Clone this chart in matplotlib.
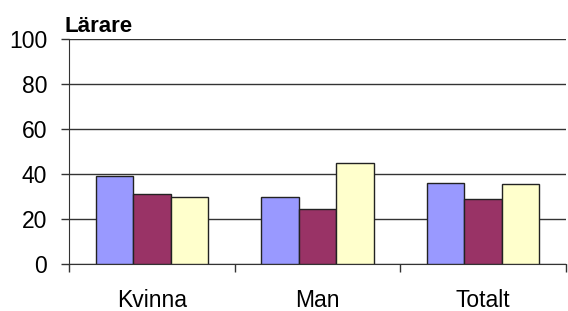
import numpy as np
import matplotlib
matplotlib.use("Agg")
import matplotlib.pyplot as plt

plt.rcParams['font.family'] = ['Liberation Sans', 'DejaVu Sans']

categories = ["Kvinna", "Man", "Totalt"]
series_a = [39, 30, 36.2]
series_b = [31, 24.6, 29]
series_c = [30, 45, 35.5]
colors = ["#9999FF", "#993366", "#FFFFCC"]
yticks = [0, 20, 40, 60, 80, 100]

fig = plt.figure(figsize=(5.68, 3.11), dpi=100)
ax = fig.add_axes([69/568, 46.7/311, 497/568, 225.6/311])

x = np.arange(len(categories))
w = 0.226
for i, (vals, c) in enumerate(zip([series_a, series_b, series_c], colors)):
    ax.bar(x + (i - 1) * w, vals, width=w, color=c, edgecolor="#222222", linewidth=1.0, zorder=3)

ax.set_xlim(-0.5, 2.5)
ax.set_ylim(0, 100)
ax.set_yticks(yticks)
ax.set_yticklabels([str(t) for t in yticks], fontsize=16.5)
ax.yaxis.grid(True, color="#333333", linewidth=1.0, zorder=0)
ax.set_axisbelow(True)

# category boundaries carry the tick marks, names sit in between
ax.set_xticks([-0.5, 0.5, 1.5, 2.5])
ax.set_xticklabels([])
ax.set_xticks(x, minor=True)
ax.set_xticklabels(categories, minor=True, fontsize=16.5)
ax.tick_params(axis="x", which="minor", length=0, pad=17.5)
ax.tick_params(axis="x", which="major", length=5.5, width=1, color="#333333", direction="out")
ax.tick_params(axis="y", length=5.8, width=1, color="#333333", pad=10)

for s in ["top", "right"]:
    ax.spines[s].set_visible(False)
ax.spines["left"].set_color("#333333")
ax.spines["bottom"].set_color("#333333")

fig.text(65/568, 1 - 32/311, "Lärare", fontsize=16, fontweight="bold", ha="left", va="baseline")

fig.savefig("out.png", dpi=100)
